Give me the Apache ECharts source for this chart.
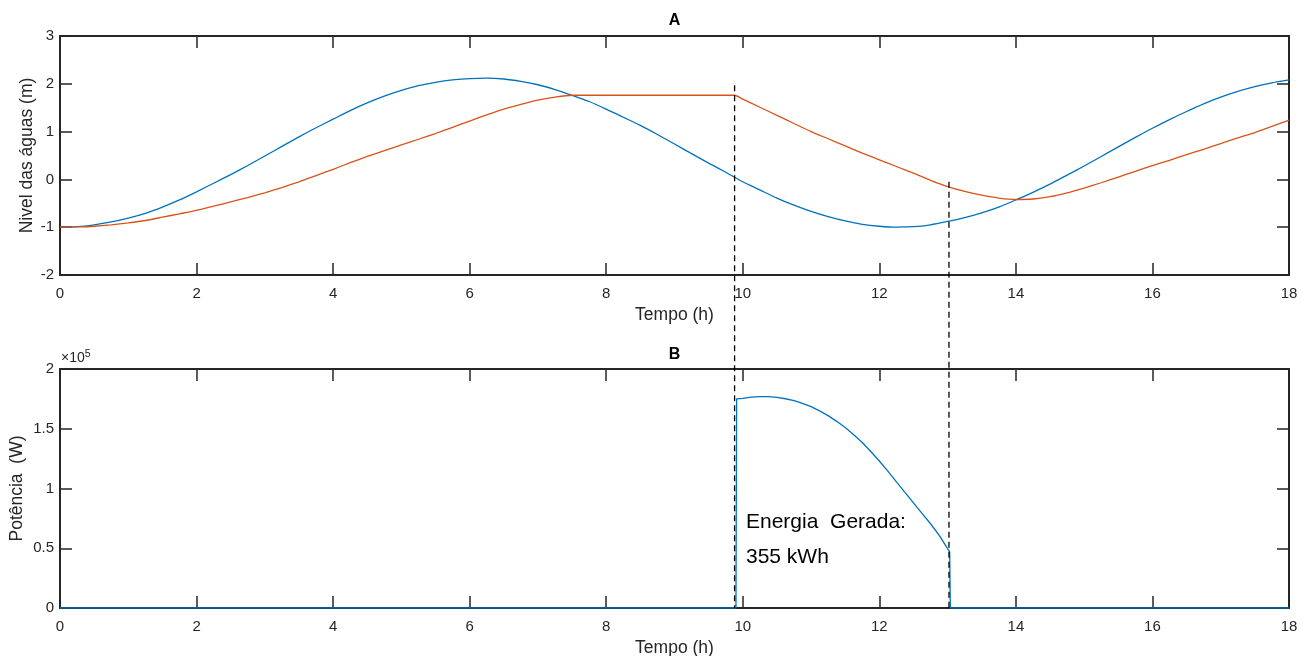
<!DOCTYPE html>
<html>
<head>
<meta charset="utf-8">
<script src="https://cdn.jsdelivr.net/npm/echarts@6/dist/echarts.min.js"></script>
<style>
html,body{margin:0;padding:0;background:#fff;}
#chart{width:1307px;height:656px;}
</style>
</head>
<body>
<div id="chart"></div>
<script>
// ---- Data ----
const hours = [0,0.25,0.5,0.75,1,1.25,1.5,1.75,2,2.25,2.5,2.75,3,3.25,3.5,3.75,4,4.25,4.5,4.75,5,5.25,5.5,5.75,6,6.25,6.5,6.75,7,7.25,7.5,7.75,8,8.25,8.5,8.75,9,9.25,9.5,9.75,10,10.25,10.5,10.75,11,11.25,11.5,11.75,12,12.25,12.5,12.75,13,13.25,13.5,13.75,14,14.25,14.5,14.75,15,15.25,15.5,15.75,16,16.25,16.5,16.75,17,17.25,17.5,17.75,18];
const seaLevel = [-1.00,-0.99,-0.95,-0.89,-0.81,-0.71,-0.58,-0.43,-0.26,-0.08,0.10,0.29,0.49,0.69,0.89,1.08,1.26,1.44,1.60,1.74,1.86,1.96,2.03,2.08,2.11,2.12,2.10,2.05,1.98,1.88,1.76,1.63,1.47,1.30,1.13,0.94,0.74,0.54,0.34,0.15,-0.05,-0.22,-0.39,-0.54,-0.67,-0.78,-0.87,-0.94,-0.98,-1.00,-0.99,-0.95,-0.88,-0.80,-0.70,-0.58,-0.43,-0.27,-0.10,0.09,0.28,0.48,0.68,0.88,1.07,1.25,1.42,1.58,1.72,1.84,1.94,2.02,2.08];

const basinTime = [0,0.25,0.5,0.75,1,1.25,1.5,1.75,2,2.25,2.5,2.75,3,3.25,3.5,3.75,4,4.25,4.5,4.75,5,5.25,5.5,5.75,6,6.25,6.5,6.75,7,7.25,7.5,7.75,8,8.25,8.5,8.75,9,9.25,9.5,9.75,9.88,10,10.25,10.5,10.75,11,11.25,11.5,11.75,12,12.25,12.5,12.75,13,13.25,13.5,13.75,14,14.25,14.5,14.75,15,15.25,15.5,15.75,16,16.25,16.5,16.75,17,17.25,17.5,17.75,18];
const basinLevel = [-1.00,-0.995,-0.98,-0.95,-0.91,-0.86,-0.79,-0.72,-0.65,-0.56,-0.47,-0.38,-0.28,-0.17,-0.05,0.08,0.21,0.35,0.48,0.60,0.72,0.84,0.96,1.09,1.22,1.35,1.47,1.57,1.66,1.72,1.76,1.76,1.76,1.76,1.76,1.76,1.76,1.76,1.76,1.76,1.76,1.68,1.51,1.34,1.17,1.00,0.85,0.70,0.55,0.41,0.27,0.13,-0.02,-0.15,-0.25,-0.33,-0.39,-0.42,-0.41,-0.36,-0.28,-0.18,-0.07,0.05,0.17,0.29,0.40,0.52,0.63,0.75,0.87,0.98,1.11,1.24];

const powerTime = [0,9.9,9.91,10,10.125,10.25,10.375,10.5,10.625,10.75,10.875,11,11.125,11.25,11.375,11.5,11.625,11.75,11.875,12,12.125,12.25,12.375,12.5,12.625,12.75,12.875,13.03,13.04,18];
const powerW = [0,0,175000,175400,176400,176850,176800,176200,175100,173500,171300,168500,165000,161000,156200,151000,145000,138500,131000,123000,114500,105500,96800,88000,79200,70500,61000,47000,0,0];

// generation window markers: [time, top level on panel A]
const markerTimes = [9.88, 13.02];
const markerTops = [1.97, -0.05];

const energyKWh = 355;
const xTicks = {min:0, max:18, interval:2};
const yTopTicks = {min:-2, max:3, interval:1};
const yBotTicks = {min:0, max:200000, interval:50000};

// ---- Layout ----
const L = 60, W = 1229, T1 = 36, H = 239, T2 = 369;
const totalH = (T2 + H) - T1;
const yTopSpan = yTopTicks.max - yTopTicks.min;
const yOverlayMin = yTopTicks.max - totalH / (H / yTopSpan);

const axisCol = '#262626';
const FONT = 'Liberation Sans, Arial, sans-serif';

function xAx(gi, pos, showLabel) {
  return {
    type:'value', gridIndex:gi, position:pos, min:xTicks.min, max:xTicks.max, interval:xTicks.interval,
    axisLine:{show:true, onZero:false, lineStyle:{color:axisCol, width:2}},
    axisTick:{show:true, inside:true, length:12, lineStyle:{color:axisCol, width:1.5}},
    axisLabel:{show:showLabel, margin:11, color:axisCol, fontSize:15, fontFamily:FONT},
    splitLine:{show:false},
    name: showLabel ? 'Tempo (h)' : '', nameLocation:'middle', nameGap:31, nameMoveOverlap:false,
    nameTextStyle:{color:axisCol, fontSize:17.5, fontFamily:FONT}
  };
}
function yAx(gi, pos, ticks, showLabel, name, gap, fmt) {
  return {
    type:'value', gridIndex:gi, position:pos, min:ticks.min, max:ticks.max, interval:ticks.interval,
    axisLine:{show:true, onZero:false, lineStyle:{color:axisCol, width:2}},
    axisTick:{show:true, inside:true, length:12, lineStyle:{color:axisCol, width:1.5}},
    axisLabel:{show:showLabel, margin:6, color:axisCol, fontSize:15, fontFamily:FONT, formatter:fmt},
    splitLine:{show:false},
    name: showLabel ? name : '', nameLocation:'middle', nameGap:gap, nameMoveOverlap:false,
    nameTextStyle:{color:axisCol, fontSize:17.5, fontFamily:FONT}
  };
}

const chart = echarts.init(document.getElementById('chart'), null, {renderer:'canvas'});

const pair = (xs, ys) => xs.map((x,i)=>[x, ys[i]]);

const markerSeries = markerTimes.map((t,i)=>({
  type:'line', xAxisIndex:4, yAxisIndex:4, data:[[t, markerTops[i]],[t, yOverlayMin]],
  symbol:'none', silent:true, z:5,
  lineStyle:{color:'#000', width:1.3, type:[6,4]}
}));

chart.setOption({
  animation:false,
  backgroundColor:'#fff',
  grid:[
    {left:L, top:T1, width:W, height:H, containLabel:false, outerBoundsMode:'none'},
    {left:L, top:T2, width:W, height:H, containLabel:false, outerBoundsMode:'none'},
    {left:L, top:T1, width:W, height:totalH, containLabel:false, outerBoundsMode:'none'}
  ],
  xAxis:[
    xAx(0,'bottom',true), xAx(0,'top',false),
    xAx(1,'bottom',true), xAx(1,'top',false),
    {type:'value', gridIndex:2, min:xTicks.min, max:xTicks.max, show:false}
  ],
  yAxis:[
    yAx(0,'left',yTopTicks,true,'Nivel das águas (m)',24, v=>String(v)),
    yAx(0,'right',yTopTicks,false,'',0),
    yAx(1,'left',yBotTicks,true,'Potência  (W)',34, v=>String(v/100000)),
    yAx(1,'right',yBotTicks,false,'',0),
    {type:'value', gridIndex:2, min:yOverlayMin, max:yTopTicks.max, show:false}
  ],
  series:[
    {type:'line', xAxisIndex:0, yAxisIndex:0, data:pair(hours, seaLevel), symbol:'none', smooth:0.25,
     lineStyle:{color:'#0072BD', width:1.3}},
    {type:'line', xAxisIndex:0, yAxisIndex:0, data:pair(basinTime, basinLevel), symbol:'none', smooth:0.2,
     lineStyle:{color:'#D95319', width:1.3}},
    {type:'line', xAxisIndex:2, yAxisIndex:2, data:pair(powerTime, powerW), symbol:'none', smooth:false,
     lineStyle:{color:'#0072BD', width:1.3}},
    ...markerSeries
  ],
  graphic:[
    {type:'text', x:L+W/2, y:21, style:{text:'A', font:'bold 16px '+FONT, fill:'#000', textAlign:'center', textVerticalAlign:'middle'}},
    {type:'text', x:L+W/2, y:355, style:{text:'B', font:'bold 16px '+FONT, fill:'#000', textAlign:'center', textVerticalAlign:'middle'}},
    {type:'text', x:L+1, y:358, style:{
      rich:{b:{fontSize:14, fontFamily:FONT, fill:axisCol}, s:{fontSize:10.5, fontFamily:FONT, fill:axisCol, verticalAlign:'top', padding:[0,0,8,0]}},
      text:'{b|×10}{s|5}', textVerticalAlign:'middle'}},
    {type:'text', x:746, y:522, style:{text:'Energia  Gerada:', font:'21px '+FONT, fill:'#000', textVerticalAlign:'middle'}},
    {type:'text', x:746, y:557, style:{text: energyKWh + ' kWh', font:'21px '+FONT, fill:'#000', textVerticalAlign:'middle'}}
  ]
});
</script>
</body>
</html>
